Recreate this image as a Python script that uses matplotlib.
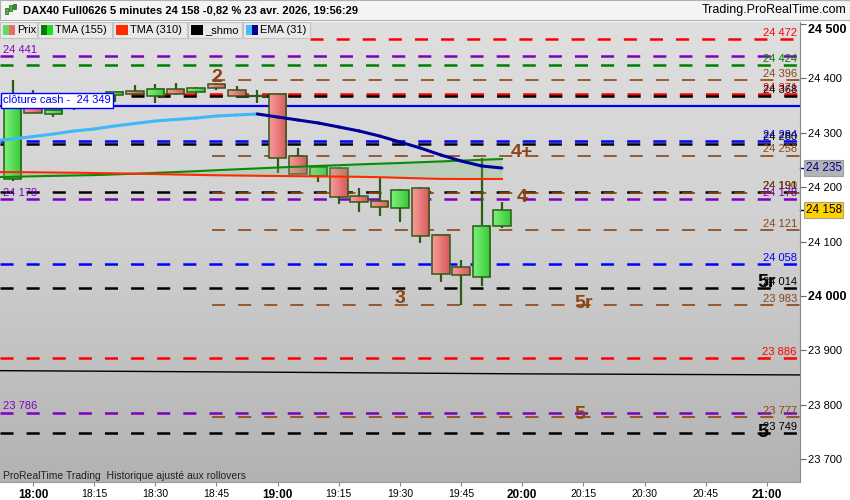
import numpy as np
import matplotlib
matplotlib.use('Agg')
import matplotlib.pyplot as plt
import matplotlib.transforms as mtrans
from matplotlib.patches import Rectangle
from matplotlib.colors import LinearSegmentedColormap

plt.rcParams['font.family'] = ['Liberation Sans', 'DejaVu Sans']
plt.rcParams['lines.scale_dashes'] = False

# --- bougies 5 minutes DAX40 ---
bar_times = ['17:55', '18:00', '18:05', '18:10', '18:15', '18:20', '18:25', '18:30', '18:35',
             '18:40', '18:45', '18:50', '18:55', '19:00', '19:05', '19:10', '19:15', '19:20',
             '19:25', '19:30', '19:35', '19:40', '19:45', '19:50', '19:55']
opens = [24215, 24354, 24334, 24345, 24356, 24369, 24376, 24367, 24380, 24375, 24389, 24378, 24367,
         24371, 24257, 24220, 24235, 24184, 24174, 24162, 24198, 24112, 24053, 24035, 24129]
highs = [24397, 24378, 24343, 24358, 24368, 24376, 24387, 24389, 24391, 24383, 24392, 24386, 24378,
         24372, 24272, 24238, 24236, 24198, 24217, 24196, 24200, 24114, 24066, 24253, 24173]
lows = [24212, 24336, 24329, 24342, 24352, 24356, 24370, 24354, 24370, 24369, 24378, 24366, 24354,
        24226, 24224, 24209, 24169, 24154, 24147, 24136, 24097, 24026, 23983, 24018, 24125]
closes = [24351, 24336, 24342, 24356, 24364, 24375, 24371, 24380, 24371, 24382, 24382, 24367, 24367,
          24253, 24224, 24237, 24182, 24173, 24163, 24195, 24110, 24040, 24039, 24129, 24158]

# --- moyennes ---
ma_times = ['17:50'] + bar_times
ema31 = [24284.7, 24288.3, 24292.9, 24297.5, 24303.0, 24306.7, 24312.2, 24316.8, 24321.4,
         24324.2, 24326.9, 24330.6, 24332.4, 24334.3, 24328.7, 24323.2, 24317.7, 24310.4,
         24303.0, 24293.8, 24282.8, 24271.8, 24259.0, 24247.9, 24238.8, 24235.0]
tma155 = [24218.1, 24218.9, 24219.8, 24220.6, 24221.3, 24222.0, 24223.3, 24224.6, 24226.1,
          24227.7, 24229.2, 24231.0, 24232.7, 24234.3, 24236.0, 24237.4, 24238.9, 24240.2,
          24241.7, 24243.0, 24244.2, 24245.7, 24247.1, 24248.6, 24250.1, 24251.6]
tma310 = [24227.7, 24227.5, 24227.2, 24226.8, 24226.4, 24225.9, 24225.3, 24224.6, 24223.9,
          24223.1, 24222.4, 24221.7, 24221.3, 24220.8, 24220.4, 24220.0, 24219.6, 24219.3,
          24218.9, 24218.2, 24217.1, 24216.0, 24215.1, 24214.9, 24214.9, 24214.9]
shmo_times = ['17:50', '19:00', '20:00', '21:10']
shmo = [23863, 23860, 23857, 23855]

# --- niveaux horizontaux ---
level_values = [24472, 24441, 24424, 24396, 24371, 24368, 24284, 24280, 24258, 24191,
                24190, 24178, 24121, 24058, 24014, 23983, 23886, 23786, 23777, 23749]
level_kind = ['rouge', 'violet', 'vert', 'brun', 'rouge', 'noir', 'bleu', 'noir', 'brun', 'noir',
              'brun', 'violet', 'brun', 'bleu', 'noir', 'brun', 'rouge', 'violet', 'brun', 'noir']
level_start = ['19:08', None, None, '18:44', '18:24', '18:24', None, None, '18:44', None,
               '18:44', None, '18:44', None, None, '18:44', None, None, '18:44', None]
level_label_right = [True, False, True, True, True, True, True, True, True, True,
                     True, True, True, True, True, True, True, False, True, True]
level_label_left = [False, True, False, False, False, False, False, False, False, False,
                    False, True, False, False, False, False, False, True, False, False]
cash_close = 24349

marks_text = ['2', '4+', '4', '3', '5r', '5', '5r', '5']
marks_time = ['18:45', '20:00', '20:00', '19:30', '20:15', '20:14', '21:00', '20:59']
marks_price = [24402, 24264, 24180, 23996, 23987, 23783, 24024, 23750]
marks_kind = ['brun', 'brun', 'brun', 'brun', 'brun', 'brun', 'noir', 'noir']

x_ticks = ['18:00', '18:15', '18:30', '18:45', '19:00', '19:15', '19:30', '19:45',
           '20:00', '20:15', '20:30', '20:45', '21:00']
y_ticks = [23700, 23800, 23900, 24000, 24100, 24200, 24300, 24400, 24500]

colors = {'rouge': '#ff0000', 'violet': '#8000c0', 'vert': '#008000', 'brun': '#8b4513',
          'noir': '#000000', 'bleu': '#0000ff'}


def tmin(s):
    h, m = s.split(':')
    return (int(h) - 18) * 60 + int(m)


def sp(v):
    return f'{v:,}'.replace(',', ' ')


X0, X1 = -8.09, 188.1
Y0, Y1 = 23658.4, 24503.2
W, H = 850, 500

fig = plt.figure(figsize=(8.5, 5), dpi=100)
fig.patch.set_facecolor('white')
ax = fig.add_axes([0, 18 / H, 800 / W, 460 / H])

bg = LinearSegmentedColormap.from_list('bg', ['#dfdfdf', '#cfcfcf', '#b2b2b2'])
ax.imshow(np.linspace(0, 1, 256)[:, None], extent=(X0, X1, Y0, Y1), cmap=bg,
          origin='upper', aspect='auto', zorder=0)

# niveaux
for v, k, st in zip(level_values, level_kind, level_start):
    xs = X0 if st is None else tmin(st)
    lw = 1.2 if k == 'brun' else 1.8
    ax.plot([xs, X1], [v, v], color=colors[k], lw=lw, dashes=(9.4, 9.4), zorder=1)
ax.axhline(cash_close, color='#0000ff', lw=1.6, zorder=1)

trans_r = mtrans.blended_transform_factory(ax.transAxes, ax.transData)
for v, k, r, l in zip(level_values, level_kind, level_label_right, level_label_left):
    if r:
        ax.text(0.996, v + 2, sp(v), transform=trans_r, ha='right', va='bottom',
                fontsize=8, color=colors[k], zorder=6)
    if l:
        ax.text(0.004, v + 2, sp(v), transform=trans_r, ha='left', va='bottom',
                fontsize=8, color=colors[k], zorder=6)

# moyennes
mt = [tmin(s) for s in ma_times]
ax.fill_between(mt, tma155, tma310, color='#7dbb7d', alpha=0.28, lw=0, zorder=4)
ax.plot(mt, tma155, color='#0a8a0a', lw=1.5, zorder=5)
ax.plot(mt, tma310, color='#ff2a00', lw=1.5, zorder=5)
for i in range(1, len(mt)):
    c = '#3fb8f8' if ema31[i] >= ema31[i - 1] else '#00009a'
    ax.plot(mt[i - 1:i + 1], ema31[i - 1:i + 1], color=c, lw=2.2,
            solid_capstyle='round', zorder=5)
ax.plot([tmin(s) for s in shmo_times], shmo, color='black', lw=1.0, zorder=5)

# bougies
gcm = LinearSegmentedColormap.from_list('g', ['#7cf07c', '#36c936'])
rcm = LinearSegmentedColormap.from_list('r', ['#f99a9a', '#d85a5a'])
edge = '#2d5a17'
bw = 4.3
for t, o, h, l, c in zip(bar_times, opens, highs, lows, closes):
    x = tmin(t)
    ax.vlines(x, l, h, color=edge, lw=1.6, zorder=2)
    lo, hi = min(o, c), max(o, c)
    if hi - lo < 0.5:
        ax.plot([x - bw / 2, x + bw / 2], [o, o], color=edge, lw=1.6, zorder=3)
        continue
    ax.imshow(np.linspace(0, 1, 16)[None, :], extent=(x - bw / 2, x + bw / 2, lo, hi),
              cmap=gcm if c > o else rcm, aspect='auto', zorder=3)
    ax.add_patch(Rectangle((x - bw / 2, lo), bw, hi - lo, fill=False, ec=edge, lw=1.1, zorder=3.5))

for s, t, p, k in zip(marks_text, marks_time, marks_price, marks_kind):
    ax.text(tmin(t), p, s, ha='center', va='center', fontsize=14, fontweight='bold',
            color=colors[k], zorder=7)

ax.set_xlim(X0, X1)
ax.set_ylim(Y0, Y1)

# axes
ax.yaxis.set_ticks_position('right')
ax.set_yticks(y_ticks)
ax.set_yticklabels([sp(v) for v in y_ticks])
ax.tick_params(axis='y', length=4, width=0.8, color='#666666', pad=2, labelsize=8)
for lab, v in zip(ax.get_yticklabels(), y_ticks):
    if v % 500 == 0:
        lab.set_fontweight('bold')
        lab.set_fontsize(9)
    if v == 24500:
        lab.set_va('top')
ax.set_xticks([tmin(s) for s in x_ticks])
ax.set_xticklabels(x_ticks)
ax.tick_params(axis='x', length=3, width=0.8, color='#888888', pad=2, labelsize=7.5)
for lab in ax.get_xticklabels():
    if lab.get_text().endswith(':00'):
        lab.set_fontweight('bold')
        lab.set_fontsize(8.5)
for s in ['top', 'left']:
    ax.spines[s].set_visible(False)
ax.spines['right'].set_color('#888888')
ax.spines['bottom'].set_color('#999999')

# cours actuel et EMA
ax.annotate(sp(closes[-1]), xy=(1, closes[-1]), xycoords=trans_r, xytext=(4, 0),
            textcoords='offset points', va='center', ha='left', fontsize=8.5, color='black',
            bbox=dict(boxstyle='square,pad=0.15', fc='#ffd200', ec='#a0a0a0', lw=0.8),
            annotation_clip=False, zorder=8)
ax.annotate(sp(int(round(ema31[-1]))), xy=(1, ema31[-1]), xycoords=trans_r, xytext=(4, 0),
            textcoords='offset points', va='center', ha='left', fontsize=8.5, color='#00008b',
            bbox=dict(boxstyle='square,pad=0.15', fc='#b4b4b4', ec='#a0a0a0', lw=0.8),
            annotation_clip=False, zorder=8)
ax.plot([1, 1.006], [closes[-1]] * 2, transform=trans_r, color='black', lw=1, clip_on=False)
ax.plot([1, 1.006], [ema31[-1]] * 2, transform=trans_r, color='#00008b', lw=1, clip_on=False)

ax.text(0.004, cash_close + 1, 'clôture cash -  ' + sp(cash_close), transform=trans_r,
        ha='left', va='bottom', fontsize=8, color='#0000ff', zorder=8,
        bbox=dict(boxstyle='square,pad=0.2', fc='white', ec='#0000ff', lw=1))


def fx(px):
    return px / W


def fy(py):
    return 1 - py / H


# bandeau titre
fig.patches.append(Rectangle((0, fy(20)), 1, 20 / H, transform=fig.transFigure,
                             fc='#f4f4f4', ec='#b0b0b0', lw=0.8, zorder=1))
for x0, y0, y1, c in [(5, 14, 8, '#3cbf3c'), (9, 11, 5, '#3cbf3c'), (13, 9, 4, '#2e8b2e')]:
    fig.patches.append(Rectangle((fx(x0), fy(y0)), 3 / W, (y0 - y1) / H,
                                 transform=fig.transFigure, fc=c, ec='#2d5a17', lw=0.5, zorder=2))
fig.text(fx(23), fy(10.5), 'DAX40 Full0626 5 minutes 24 158 -0,82 % 23 avr. 2026, 19:56:29',
         fontsize=8, fontweight='bold', va='center', ha='left')
fig.text(fx(846), fy(10.5), 'Trading.ProRealTime.com', fontsize=9, va='center', ha='right')

# légende
legend_boxes = [(0, 37, 'Prix', ['#5ddc5d', '#e86a6a']),
                (38, 112, 'TMA (155)', ['#0a7a0a', '#22dd22']),
                (113, 187, 'TMA (310)', ['#ff2a00', '#ff2a00']),
                (188, 242, '_shmo', ['#000000', '#000000']),
                (243, 310, 'EMA (31)', ['#44bbff', '#00008b'])]
for x0, x1, txt, cs in legend_boxes:
    fig.patches.append(Rectangle((fx(x0), fy(38)), (x1 - x0) / W, 16 / H, transform=fig.transFigure,
                                 fc='#e9e9e9', ec='#c4c4c4', lw=0.8, zorder=2))
    for j, c in enumerate(cs):
        fig.patches.append(Rectangle((fx(x0 + 3 + 6 * j), fy(35)), 6 / W, 10 / H,
                                     transform=fig.transFigure, fc=c, lw=0, zorder=3))
    fig.text(fx(x0 + 17), fy(30), txt, fontsize=8, va='center', ha='left', zorder=4)

fig.text(fx(3), fy(476), 'ProRealTime Trading  Historique ajusté aux rollovers',
         fontsize=7.5, va='center', ha='left', color='#222222')

fig.savefig('out.png', dpi=100)
